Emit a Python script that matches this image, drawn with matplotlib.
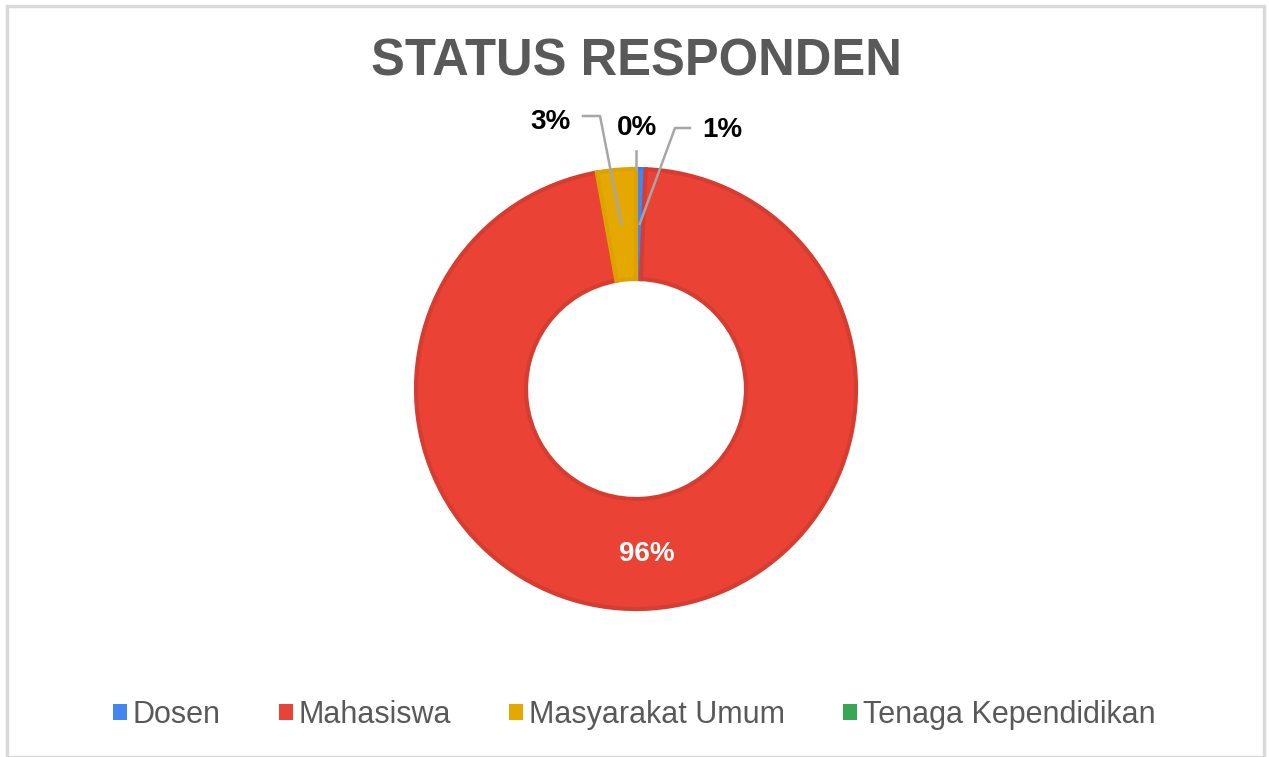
import numpy as np
import matplotlib.pyplot as plt
from matplotlib.patches import Rectangle, Patch

plt.rcParams['font.family'] = ['Liberation Sans', 'DejaVu Sans']

# data (percent of respondents)
categories = ['Dosen', 'Mahasiswa', 'Masyarakat Umum', 'Tenaga Kependidikan']
shares = [0.7, 96.45, 2.85, 0.0]
colors = ['#4285F4', '#EA4335', '#E5A800', '#34A853']
edge_colors = ['#3F7EE8', '#D63C30', '#DDA200', '#34A853']

W, H = 1269, 757
fig = plt.figure(figsize=(W / 100, H / 100), dpi=100)
ax = fig.add_axes([0, 0, 1, 1])

# chart frame
fig.patches.append(Rectangle((7 / W, 0), (1264 - 7) / W, 1 - 6 / H,
                             transform=fig.transFigure, fill=False,
                             edgecolor='#D9D9D9', lw=2.5))


def py(y):
    # pixel row (from top) -> data y
    return H - y


cx, cy, R = 636, py(389), 220
ring = 0.5

wedges, _ = ax.pie(shares, colors=colors, startangle=90, counterclock=False,
                   radius=R, center=(cx, cy), frame=True,
                   wedgeprops=dict(width=R * ring, linewidth=3))
for w, ec, s in zip(wedges, edge_colors, shares):
    w.set_edgecolor(ec)
    if s == 0:
        w.set_linewidth(0)
ax.set_xlim(0, W)
ax.set_ylim(0, H)
ax.set_aspect('equal')
ax.axis('off')

labels = ['%d%%' % round(s) for s in shares]

# mid angles of each slice
mids = [(w.theta1 + w.theta2) / 2 for w in wedges]
rmid = R * (1 - ring / 2)

# main slice label inside the ring
a = np.deg2rad(mids[1])
ax.text(cx + rmid * np.cos(a), cy + rmid * np.sin(a), labels[1], color='white',
        fontsize=20, fontweight='bold', ha='center', va='center')

line_kw = dict(color='#A6A6A6', lw=1.8)
small = dict(color='black', fontsize=20, fontweight='bold', ha='center', va='center')

# Masyarakat Umum (3%)
a = np.deg2rad(mids[2])
ax.plot([cx + rmid * np.cos(a), 600, 583], [cy + rmid * np.sin(a), py(116), py(116)], **line_kw)
ax.text(550, py(122), labels[2], **small)

# Tenaga Kependidikan (0%)
a = np.deg2rad(mids[3])
ax.plot([cx + R * np.cos(a), cx + R * np.cos(a)], [cy + R * np.sin(a), py(151)], **line_kw)
ax.text(637, py(128), labels[3], **small)

# Dosen (1%)
a = np.deg2rad(mids[0])
ax.plot([cx + rmid * np.cos(a), 675, 690], [cy + rmid * np.sin(a), py(128), py(128)], **line_kw)
ax.text(722, py(130), labels[0], **small)

ax.text(636, py(62), 'STATUS RESPONDEN', color='#595959', fontsize=36.5,
        fontweight='bold', ha='center', va='center')

handles = [Patch(facecolor=c, edgecolor='none') for c in colors]
fig.legend(handles, categories, loc='center', bbox_to_anchor=(0.5, 1 - 715 / H),
           ncol=4, frameon=False, fontsize=22, labelcolor='#595959',
           handlelength=0.45, handleheight=0.45, handletextpad=0.2, columnspacing=1.9)

fig.savefig('out.png', dpi=100, facecolor='white')
